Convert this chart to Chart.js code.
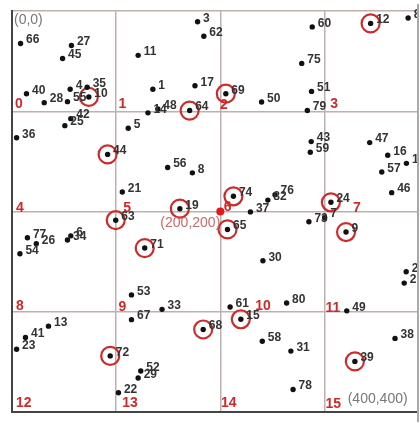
<!DOCTYPE html>
<html>
<head>
<meta charset="utf-8">
<script src="https://cdn.jsdelivr.net/npm/chart.js@4"></script>
<style>
  html, body { margin: 0; padding: 0; background: #fff; overflow: hidden; }
  #clip { position: absolute; left: 0; top: 0; width: 417px; height: 423px; overflow: hidden; }
  #wrap { position: relative; width: 440px; height: 423px; }
  #edge { position: absolute; left: 417px; top: 4px; width: 1.5px; height: 418px; background: #a9a9a9; }
</style>
</head>
<body>
<div id="clip"><div id="wrap"><canvas id="c"></canvas></div></div>
<div id="edge"></div>
<script>
// ---- data (grid coordinates, y grows downward) ----
const pointIds = [66, 27, 45, 40, 28, 4, 35, 55, 10, 42, 25, 36, 5,
  3, 62, 11, 1, 17, 69, 50, 64, 48, 14,
  60, 12, 81, 75, 51, 79,
  43, 59, 47, 16, 57, 18, 46,
  44, 56, 8, 21, 19, 74, 76, 82, 37, 24, 73, 7, 9, 63,
  77, 26, 6, 34, 54, 71, 65, 30, 20, 2,
  53, 67, 33, 68, 61, 15, 58, 80, 49, 31, 78, 39, 38,
  13, 41, 23, 72, 22, 52, 29];
const pointX = [8.4, 57.2, 48.7, 14.1, 31.1, 56.0, 72.3, 53.4, 73.9, 56.6, 50.9, 4.6, 111.7,
  178.2, 184.2, 121.2, 135.3, 175.7, 205.3, 239.6, 170.6, 140.1, 130.6,
  288.2, 344.2, 380.2, 278.1, 287.5, 283.5,
  287.2, 286.3, 343.3, 360.6, 354.9, 378.5, 364.4,
  91.9, 149.5, 173.2, 106.0, 161.2, 212.6, 252.5, 245.6, 228.9, 306.1, 285.0, 300.1, 320.6, 99.7,
  15.0, 23.5, 56.6, 53.4, 7.8, 127.5, 206.9, 240.9, 378.3, 376.4,
  114.8, 114.8, 144.1, 183.6, 209.4, 219.7, 240.3, 263.6, 321.3, 267.7, 269.8, 329.1, 367.6,
  35.2, 13.1, 4.6, 94.4, 102.3, 123.7, 121.2];
const pointY = [32.2, 34.2, 47.3, 82.4, 91.3, 77.9, 76.0, 90.3, 85.6, 107.3, 114.3, 126.4, 116.8,
  10.6, 25.0, 44.1, 77.9, 74.4, 82.4, 90.6, 99.2, 97.7, 101.5,
  15.7, 12.2, 6.8, 52.1, 80.1, 99.2,
  130.2, 140.8, 131.2, 143.9, 160.5, 151.9, 181.2,
  143.0, 156.1, 161.4, 180.6, 197.2, 184.8, 183.2, 188.6, 200.4, 190.8, 210.2, 206.1, 220.5, 208.7,
  226.2, 232.2, 224.3, 228.4, 242.2, 236.5, 217.9, 249.2, 260.2, 271.5,
  283.3, 308.0, 297.7, 317.8, 295.4, 307.6, 329.6, 291.3, 299.2, 339.4, 377.7, 349.7, 326.7,
  314.5, 325.7, 337.5, 344.2, 381.0, 359.2, 366.2];
const circledIds = [10, 64, 69, 12, 44, 19, 74, 24, 63, 71, 65, 9, 72, 68, 15, 39];

const cellLabels = ['0','1','2','3','4','5','6','7','8','9','10','11','12','13','14','15'];
const cellLabelX = [3.0, 102.3, 199.6, 305.5, 4.0, 107.0, 203.4, 327.2, 4.0, 102.3, 233.6, 300.8, 4.0, 106.0, 200.6, 300.8];
const cellLabelY = [92.9, 93.2, 93.9, 92.9, 196.6, 196.6, 195.6, 196.6, 294.8, 295.1, 294.8, 296.0, 391.8, 391.8, 391.8, 392.7];

const centerX = [200];
const centerY = [200];
const centerLabel = '(200,200)';
const cornerLabels = ['(0,0)', '(400,400)'];
const cornerX = [2.1, 322.2];
const cornerY = [9.0, 387.0];

const axisMin = 0, axisMax = 400, gridStep = 100;

// ---- derived datasets ----
const pts = pointIds.map((id, i) => ({ x: pointX[i], y: pointY[i] }));
const circ = pointIds.map((id, i) => circledIds.includes(id) ? { x: pointX[i], y: pointY[i] } : null).filter(Boolean);
const ctr = centerX.map((x, i) => ({ x: x, y: centerY[i] }));

const FONT = '"Liberation Sans", Arial, sans-serif';
const RED = '#cf2a2a';

const labelPlugin = {
  id: 'labels',
  afterDatasetsDraw(chart) {
    const ctx = chart.ctx;
    const xs = chart.scales.x, ys = chart.scales.y;
    ctx.save();
    // point labels
    ctx.font = 'bold 12px ' + FONT;
    ctx.fillStyle = '#333';
    ctx.textAlign = 'left';
    ctx.textBaseline = 'middle';
    const meta = chart.getDatasetMeta(0);
    meta.data.forEach((el, i) => {
      ctx.fillText(String(pointIds[i]), el.x + 5.5, el.y - 3.5);
    });
    // cell labels
    ctx.font = 'bold 14px ' + FONT;
    ctx.fillStyle = RED;
    cellLabels.forEach((t, i) => {
      ctx.fillText(t, xs.getPixelForValue(cellLabelX[i]), ys.getPixelForValue(cellLabelY[i]));
    });
    // corner labels
    ctx.font = '14px ' + FONT;
    ctx.fillStyle = '#777';
    cornerLabels.forEach((t, i) => {
      ctx.fillText(t, xs.getPixelForValue(cornerX[i]), ys.getPixelForValue(cornerY[i]));
    });
    // center label
    const cm = chart.getDatasetMeta(2).data[0];
    ctx.fillStyle = '#c96a6a';
    ctx.textAlign = 'right';
    ctx.fillText(centerLabel, cm.x, cm.y + 12);
    ctx.restore();
  }
};

new Chart(document.getElementById('c'), {
  type: 'scatter',
  data: {
    datasets: [
      { data: pts, pointRadius: 2.7, pointHoverRadius: 2.7, backgroundColor: '#111', borderWidth: 0, clip: false },
      { data: circ, pointRadius: 9, pointHoverRadius: 9, backgroundColor: 'rgba(0,0,0,0)', borderColor: RED, borderWidth: 2.2, clip: false },
      { data: ctr, pointRadius: 4, pointHoverRadius: 4, backgroundColor: '#e01818', borderWidth: 0, clip: false }
    ]
  },
  options: {
    responsive: true,
    maintainAspectRatio: false,
    animation: false,
    events: [],
    layout: { padding: { left: 11.8, top: 4.6, right: 5, bottom: 0.4 } },
    plugins: { legend: { display: false }, tooltip: { enabled: false } },
    scales: {
      x: {
        type: 'linear', min: axisMin, max: axisMax,
        ticks: { display: false, stepSize: gridStep },
        grid: { color: '#bfb0b0', lineWidth: 1.5, drawTicks: false },
        border: { color: '#444', width: 2 }
      },
      y: {
        type: 'linear', min: axisMin, max: axisMax, reverse: true,
        ticks: { display: false, stepSize: gridStep },
        grid: { color: '#bfb0b0', lineWidth: 1.5, drawTicks: false },
        border: { color: '#444', width: 2 }
      }
    }
  },
  plugins: [labelPlugin]
});
</script>
</body>
</html>
